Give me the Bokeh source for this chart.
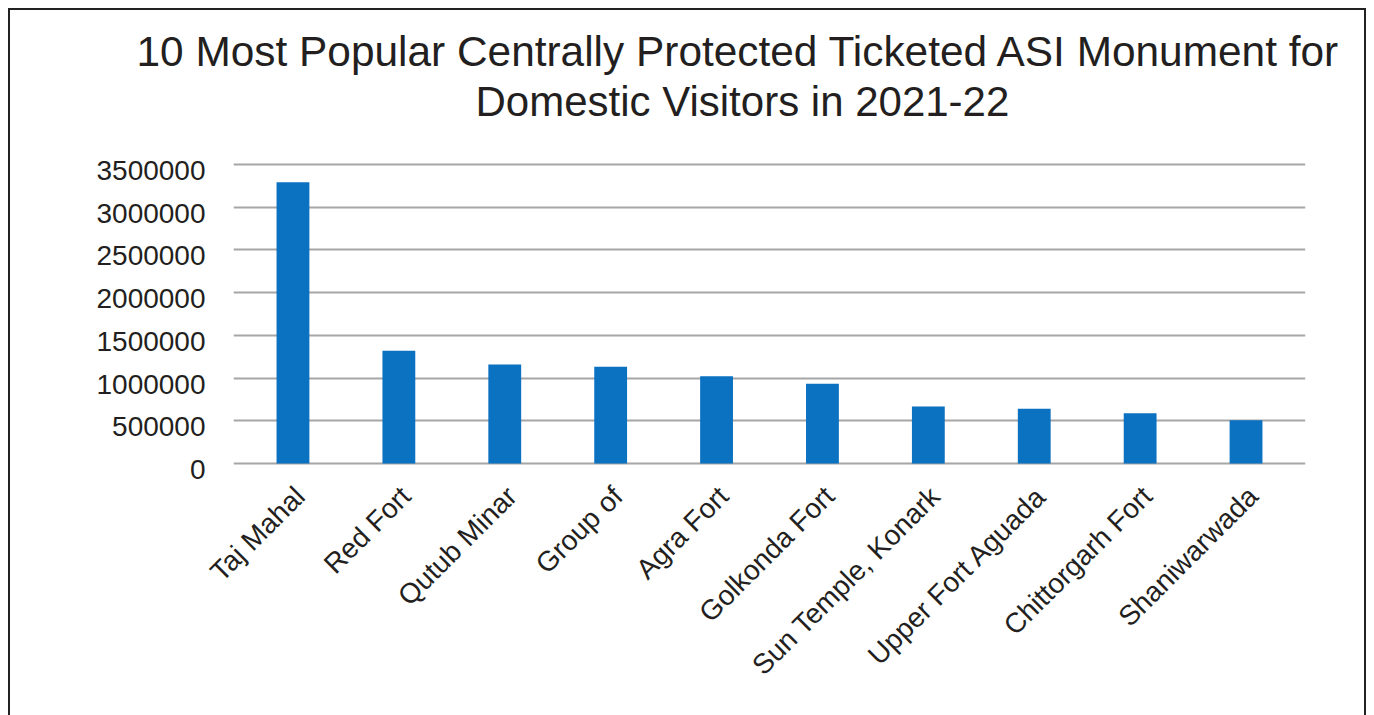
from math import pi
from bokeh.plotting import figure
from bokeh.models import (Title, FixedTicker, BasicTickFormatter, Range1d, LinearAxis,
                          ColumnDataSource)
from bokeh.embed import file_html
from bokeh.resources import INLINE

title_lines = ["10 Most Popular Centrally Protected Ticketed ASI Monument for",
               "Domestic Visitors in 2021-22"]
monuments = ["Taj Mahal", "Red Fort", "Qutub Minar", "Group of", "Agra Fort",
             "Golkonda Fort", "Sun Temple, Konark", "Upper Fort Aguada",
             "Chittorgarh Fort", "Shaniwarwada"]
visitors = [3291000, 1320000, 1158000, 1131000, 1022000,
            934000, 668000, 640000, 589000, 507000]
y_ticks = [0, 500000, 1000000, 1500000, 2000000, 2500000, 3000000, 3500000]

FONT = "Liberation Sans"
TXT = "#231f20"
N = len(monuments)
PAD = 0.0615          # outer padding on each side, in category units
FRAME_W = 1068        # pixel width of the plot frame
AXIS_H = 297          # pixels between the 0 and the top grid line
EXT_TOP, EXT_BOT = 2, 8   # frame extension beyond the grid, pixels
LABEL_DX = 7          # x label shift to the right of the bar centre, pixels
YLABEL_DY = 6         # y label shift below its grid line, pixels

Y_MAX = y_ticks[-1]
upx = Y_MAX / AXIS_H
y0, y1 = -EXT_BOT * upx, Y_MAX + EXT_TOP * upx

src = ColumnDataSource(dict(pos=list(range(N)), name=monuments, visitors=visitors))

span = N + 2 * PAD
p = figure(x_range=Range1d(-0.5 - PAD, N - 0.5 + PAD),
           y_range=Range1d(y0, y1),
           width=1358, height=707, output_backend="svg", toolbar_location=None,
           min_border_left=223, min_border_right=63, min_border_top=152,
           min_border_bottom=246)
p.margin = (8, 0, 0, 8)
p.styles = {"border": "2px solid #222222", "border-bottom": "none"}
p.outline_line_color = None
p.background_fill_color = "white"
p.border_fill_color = "white"

p.vbar(x="pos", top="visitors", width=0.31, source=src,
       fill_color="#0b71c1", line_color=None)

t2 = Title(text=title_lines[1], align="left", offset=242, standoff=76,
           text_font=FONT, text_font_size="42px", text_font_style="normal",
           text_color=TXT)
t1 = Title(text=title_lines[0], align="left", offset=-97, standoff=-75,
           text_font=FONT, text_font_size="42.4px", text_font_style="normal",
           text_color=TXT)
p.add_layout(t2, "above")
p.add_layout(t1, "above")

p.xgrid.grid_line_color = None
p.ygrid.grid_line_color = "#a6a6a6"
p.ygrid.grid_line_width = 2
p.ygrid.ticker = FixedTicker(ticks=y_ticks)

# category labels on a helper range, shifted a few pixels right of the bar centres
shift = LABEL_DX * span / FRAME_W
p.extra_x_ranges = {"lab": Range1d(-0.5 - PAD - shift, N - 0.5 + PAD - shift)}
p.xaxis.visible = False
lab_axis = LinearAxis(x_range_name="lab", ticker=FixedTicker(ticks=list(range(N))),
                      major_label_overrides={i: m for i, m in enumerate(monuments)})
p.add_layout(lab_axis, "below")

# value labels on a helper range, a few pixels below their grid lines
dy = YLABEL_DY * upx
p.extra_y_ranges = {"ylab": Range1d(y0 + dy, y1 + dy)}
p.yaxis.visible = False
y_axis = LinearAxis(y_range_name="ylab", ticker=FixedTicker(ticks=y_ticks),
                    formatter=BasicTickFormatter(use_scientific=False))
p.add_layout(y_axis, "left")

for ax in (lab_axis, y_axis):
    ax.axis_line_color = None
    ax.major_tick_line_color = None
    ax.minor_tick_line_color = None
    ax.major_tick_in = 0
    ax.major_tick_out = 0
    ax.minor_tick_in = 0
    ax.minor_tick_out = 0
    ax.major_label_text_font = FONT
    ax.major_label_text_font_size = "28px"
    ax.major_label_text_color = TXT
y_axis.major_label_standoff = 28
lab_axis.major_label_orientation = pi / 4
lab_axis.major_label_standoff = 20

open("out.html", "w").write(file_html(p, INLINE))
